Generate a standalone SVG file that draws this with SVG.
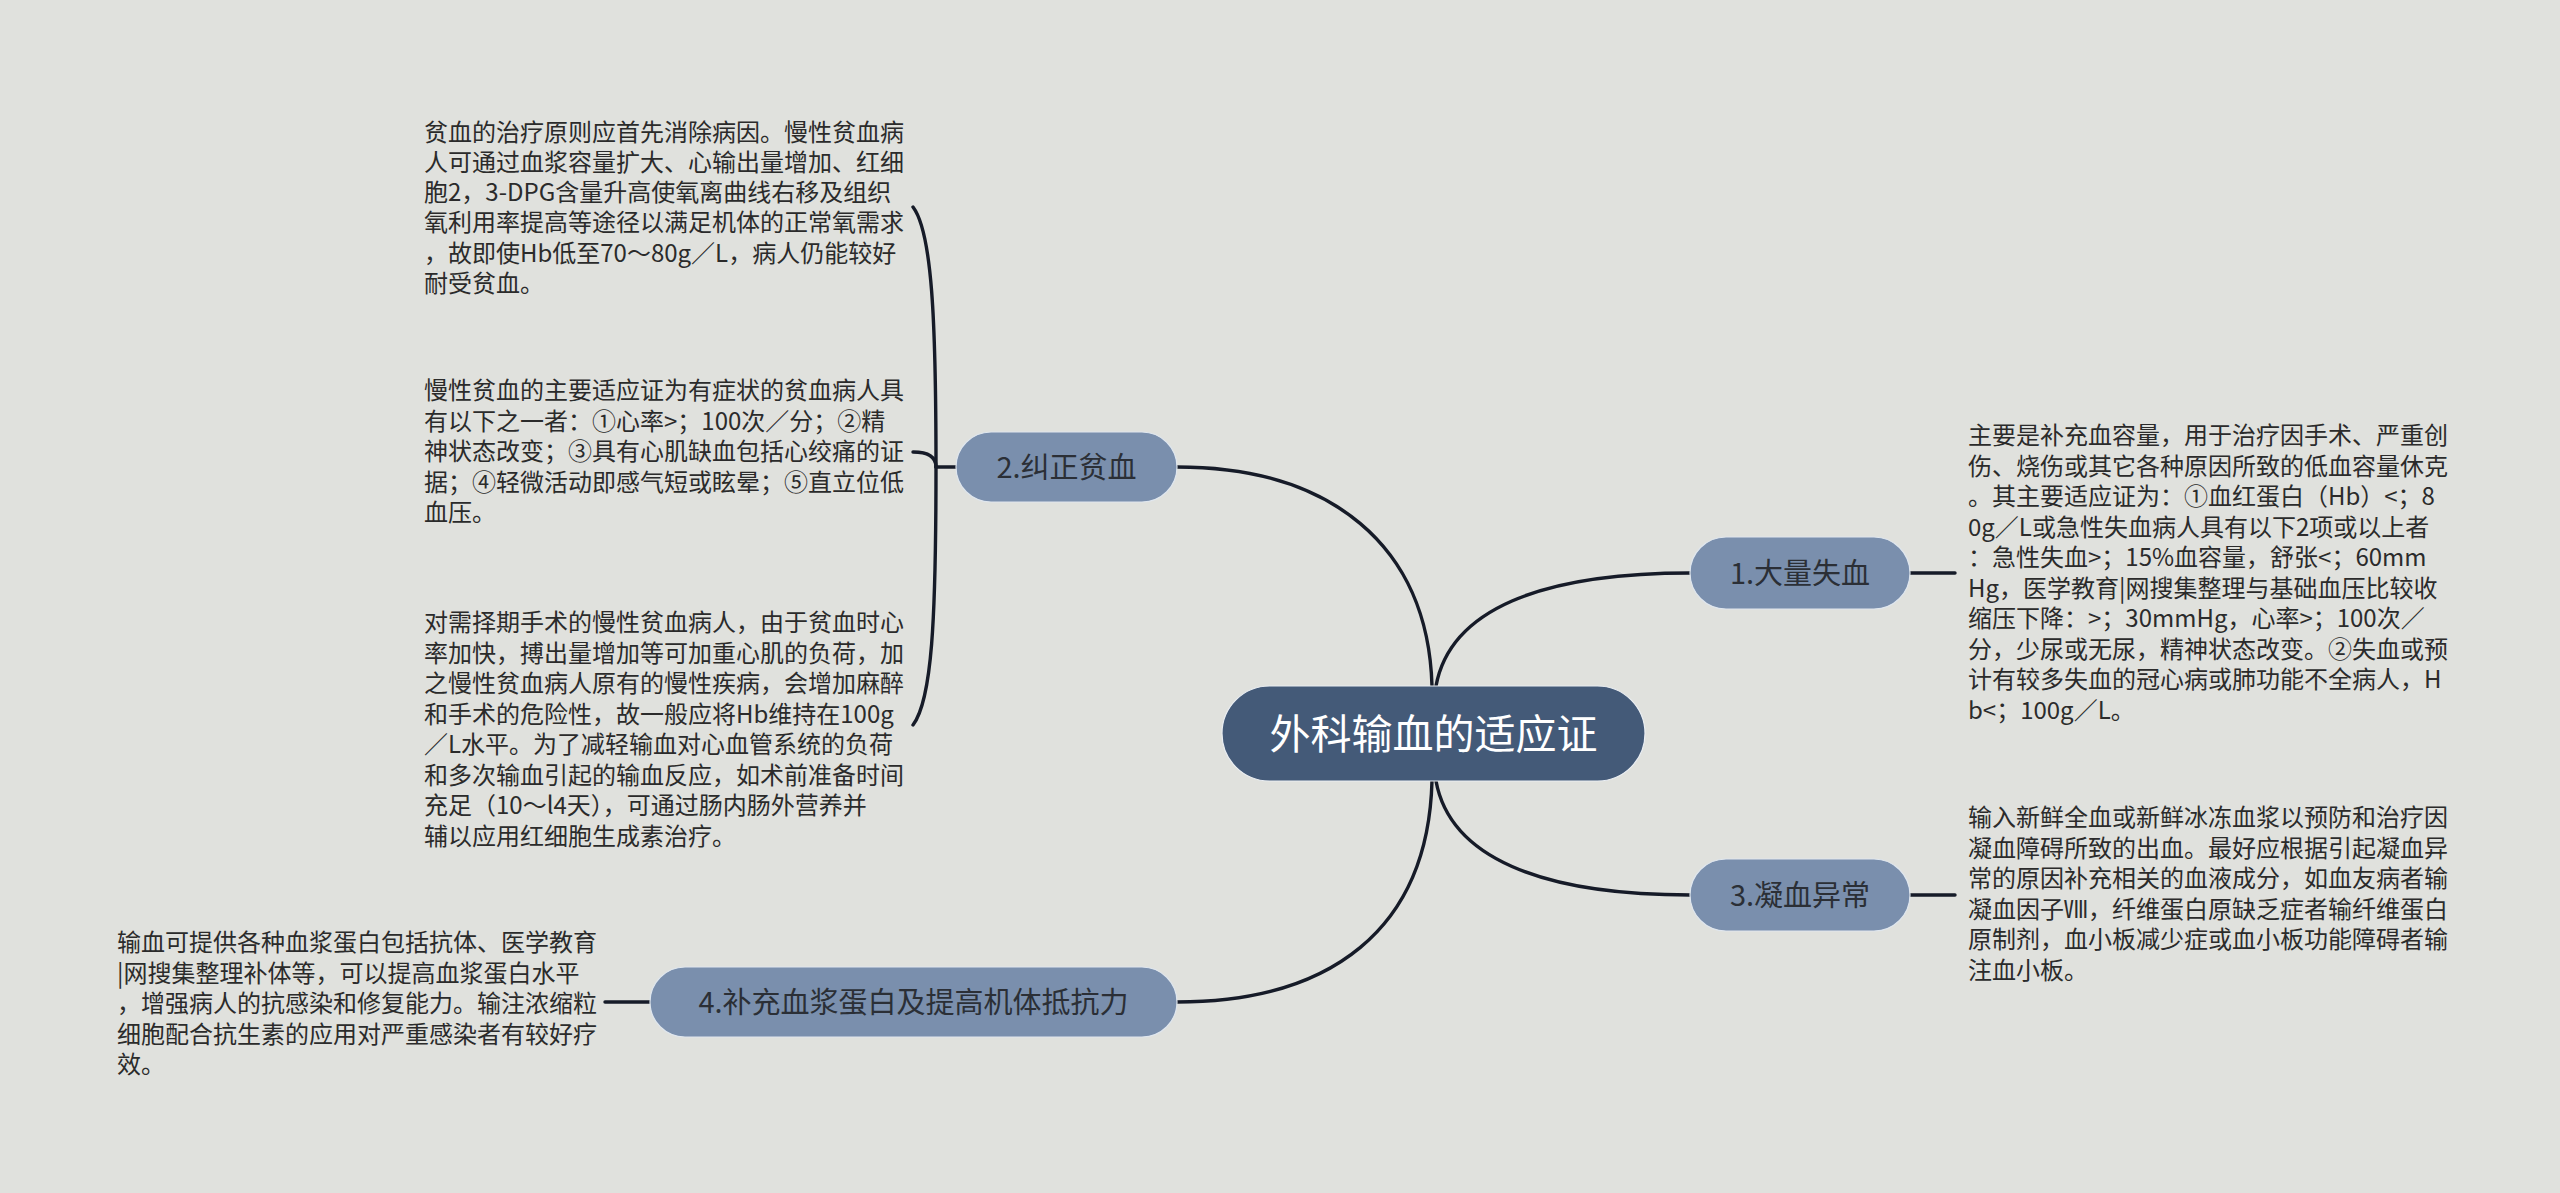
<svg xmlns="http://www.w3.org/2000/svg" width="2560" height="1193" viewBox="0 0 2560 1193">
<style>
  text{font-family:"Noto Sans CJK SC","Noto Sans",sans-serif}
  .link{fill:none;stroke:#161b28;stroke-width:3.4;stroke-linecap:round}
  .root rect{fill:#445a78;stroke:#e9edf2;stroke-width:1.2}
  .root text{fill:#ffffff;font-size:41px;text-anchor:middle}
  .topic rect{fill:#7a8fad;stroke:#dfe6ee;stroke-width:1.2}
  .topic text{fill:#2b2f36;font-size:29px;text-anchor:middle}
  .note text{fill:#2b2b2b;font-size:24px}
</style>
<rect width="2560" height="1193" fill="#e0e1dd"/>

<g id="connectors">
  <path class="link" d="M1432,686 C1428,545 1330,467 1177,467"/>
  <path class="link" d="M1436,686 C1450,610 1540,573 1690,573"/>
  <path class="link" d="M1436,781 C1450,857 1540,895 1690,895"/>
  <path class="link" d="M1432,781 C1428,930 1330,1002 1177,1002"/>
  <path class="link" d="M1910,573 L1955,573"/>
  <path class="link" d="M1910,895 L1955,895"/>
  <path class="link" d="M650,1002 L605,1002"/>
  <path class="link" d="M956,467 L936,467"/>
  <path class="link" d="M936,467 C936,320 932,232 913,207"/>
  <path class="link" d="M936,467 C936,458 930,452 913,452"/>
  <path class="link" d="M936,467 C936,620 932,700 913,725"/>
</g>

<g id="root" class="root">
  <rect x="1222" y="686" width="423" height="95" rx="47.5"/>
  <text x="1433.5" y="748.5">外科输血的适应证</text>
</g>

<g id="topic1" class="topic">
  <rect x="1690" y="537" width="220" height="72" rx="36"/>
  <text x="1800" y="584">1.大量失血</text>
</g>
<g id="topic2" class="topic">
  <rect x="956" y="432" width="221" height="70" rx="35"/>
  <text x="1066.5" y="478">2.纠正贫血</text>
</g>
<g id="topic3" class="topic">
  <rect x="1690" y="859" width="220" height="72" rx="36"/>
  <text x="1800" y="906">3.凝血异常</text>
</g>
<g id="topic4" class="topic">
  <rect x="650" y="967" width="527" height="70" rx="35"/>
  <text x="913.5" y="1013">4.补充血浆蛋白及提高机体抵抗力</text>
</g>

<g id="note1" class="note">
  <text x="1968" y="444">主要是补充血容量，用于治疗因手术、严重创</text>
  <text x="1968" y="474.5">伤、烧伤或其它各种原因所致的低血容量休克</text>
  <text x="1968" y="505">。其主要适应证为：①血红蛋白（Hb）&lt;；8</text>
  <text x="1968" y="535.5">0g／L或急性失血病人具有以下2项或以上者</text>
  <text x="1968" y="566">：急性失血&gt;；15%血容量，舒张&lt;；60mm</text>
  <text x="1968" y="596.5">Hg，医学教育|网搜集整理与基础血压比较收</text>
  <text x="1968" y="627">缩压下降：&gt;；30mmHg，心率&gt;；100次／</text>
  <text x="1968" y="657.5">分，少尿或无尿，精神状态改变。②失血或预</text>
  <text x="1968" y="688">计有较多失血的冠心病或肺功能不全病人，H</text>
  <text x="1968" y="718.5">b&lt;；100g／L。</text>
</g>

<g id="note2a" class="note">
  <text x="424" y="141">贫血的治疗原则应首先消除病因。慢性贫血病</text>
  <text x="424" y="171">人可通过血浆容量扩大、心输出量增加、红细</text>
  <text x="424" y="201">胞2，3-DPG含量升高使氧离曲线右移及组织</text>
  <text x="424" y="231">氧利用率提高等途径以满足机体的正常氧需求</text>
  <text x="424" y="262">，故即使Hb低至70～80g／L，病人仍能较好</text>
  <text x="424" y="292">耐受贫血。</text>
</g>
<g id="note2b" class="note">
  <text x="424" y="399">慢性贫血的主要适应证为有症状的贫血病人具</text>
  <text x="424" y="429.5">有以下之一者：①心率&gt;；100次／分；②精</text>
  <text x="424" y="460">神状态改变；③具有心肌缺血包括心绞痛的证</text>
  <text x="424" y="490.5">据；④轻微活动即感气短或眩晕；⑤直立位低</text>
  <text x="424" y="521">血压。</text>
</g>
<g id="note2c" class="note">
  <text x="424" y="631">对需择期手术的慢性贫血病人，由于贫血时心</text>
  <text x="424" y="661.5">率加快，搏出量增加等可加重心肌的负荷，加</text>
  <text x="424" y="692">之慢性贫血病人原有的慢性疾病，会增加麻醉</text>
  <text x="424" y="722.5">和手术的危险性，故一般应将Hb维持在100g</text>
  <text x="424" y="753">／L水平。为了减轻输血对心血管系统的负荷</text>
  <text x="424" y="783.5">和多次输血引起的输血反应，如术前准备时间</text>
  <text x="424" y="814">充足（10～l4天），可通过肠内肠外营养并</text>
  <text x="424" y="844.5">辅以应用红细胞生成素治疗。</text>
</g>

<g id="note3" class="note">
  <text x="1968" y="826">输入新鲜全血或新鲜冰冻血浆以预防和治疗因</text>
  <text x="1968" y="856.5">凝血障碍所致的出血。最好应根据引起凝血异</text>
  <text x="1968" y="887">常的原因补充相关的血液成分，如血友病者输</text>
  <text x="1968" y="917.5">凝血因子Ⅷ，纤维蛋白原缺乏症者输纤维蛋白</text>
  <text x="1968" y="948">原制剂，血小板减少症或血小板功能障碍者输</text>
  <text x="1968" y="978.5">注血小板。</text>
</g>

<g id="note4" class="note">
  <text x="117" y="951">输血可提供各种血浆蛋白包括抗体、医学教育</text>
  <text x="117" y="981.5">|网搜集整理补体等，可以提高血浆蛋白水平</text>
  <text x="117" y="1012">，增强病人的抗感染和修复能力。输注浓缩粒</text>
  <text x="117" y="1042.5">细胞配合抗生素的应用对严重感染者有较好疗</text>
  <text x="117" y="1073">效。</text>
</g>
</svg>
